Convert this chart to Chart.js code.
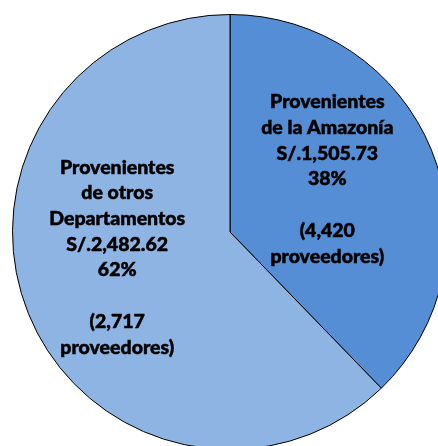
<!DOCTYPE html>
<html>
<head>
<meta charset="utf-8">
<script src="https://cdn.jsdelivr.net/npm/chart.js@4/dist/chart.umd.min.js"></script>
<style>
  html, body { margin: 0; padding: 0; background: #fff; overflow: hidden; }
  body { width: 438px; height: 446px; position: relative; }
  #wrap { position: absolute; left: 0; top: 0; width: 460px; height: 464px; }
</style>
</head>
<body>
<div id="wrap"><canvas id="pie"></canvas></div>
<script>
// datos
const categorias = ["Provenientes de la Amazonía", "Provenientes de otros Departamentos"];
const montos = [1505.73, 2482.62];
const porcentajes = ["38%", "62%"];
const proveedores = ["4,420", "2,717"];
const colores = ["#558ED5", "#8EB4E3"];

// lineas de texto de cada etiqueta
const etiquetas = [
    ["Provenientes", "de la Amazonía", "S/.1,505.73", porcentajes[0], "", "(" + proveedores[0], "proveedores)"],
    ["Provenientes", "de otros", "Departamentos", "S/.2,482.62", porcentajes[1], "", "(" + proveedores[1], "proveedores)"]
];
// ajuste de la posicion respecto al centro del sector
const ajustes = [{ dx: -3.5, dy: -12 }, { dx: -12, dy: -15.5 }];

const etiquetasPlugin = {
    id: "etiquetas",
    afterDatasetsDraw(chart) {
        const ctx = chart.ctx;
        const arcs = chart.getDatasetMeta(0).data;
        ctx.save();
        ctx.font = "900 19.5px Lato";
        ctx.fillStyle = "#000";
        ctx.strokeStyle = "#000";
        ctx.lineWidth = 0.5;
        ctx.textAlign = "center";
        ctx.textBaseline = "middle";
        const lh = 25.7;
        arcs.forEach((arc, i) => {
            const p = arc.tooltipPosition();
            const lines = etiquetas[i];
            const x = p.x + ajustes[i].dx;
            const y0 = p.y + ajustes[i].dy - (lines.length - 1) * lh / 2;
            lines.forEach((t, j) => {
                ctx.fillText(t, x, y0 + j * lh);
                ctx.strokeText(t, x, y0 + j * lh);
            });
        });
        ctx.restore();
    }
};

new Chart(document.getElementById("pie").getContext("2d"), {
    type: "pie",
    data: {
        labels: categorias,
        datasets: [{
            data: montos,
            backgroundColor: colores,
            borderColor: "#000",
            borderWidth: 1
        }]
    },
    options: {
        responsive: true,
        maintainAspectRatio: false,
        animation: false,
        layout: { padding: 12 },
        plugins: { legend: { display: false }, tooltip: { enabled: false } }
    },
    plugins: [etiquetasPlugin]
});
</script>
</body>
</html>
